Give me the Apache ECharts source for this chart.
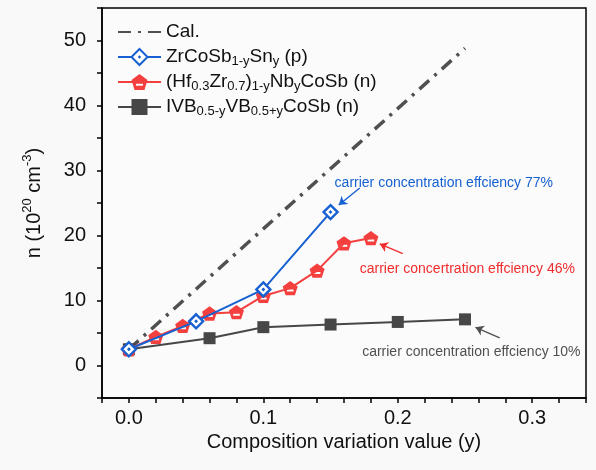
<!DOCTYPE html>
<html>
<head>
<meta charset="utf-8">
<script src="https://cdn.jsdelivr.net/npm/echarts@6/dist/echarts.min.js"></script>
<style>
  html, body { margin: 0; padding: 0; background: #f9f9f9; }
  #main { width: 596px; height: 470px; }
</style>
</head>
<body>
<div id="main"></div>
<script>
// values
const calX = [0.0, 0.25];
const calN = [2.5, 48.8];
const zrX = [0.0, 0.05, 0.1, 0.15];
const zrN = [2.5, 6.8, 11.7, 23.6];
const hfX = [0.0, 0.02, 0.04, 0.06, 0.08, 0.1, 0.12, 0.14, 0.16, 0.18];
const hfN = [2.5, 4.4, 6.1, 8.0, 8.2, 10.7, 11.9, 14.6, 18.8, 19.6];
const ivbX = [0.0, 0.06, 0.1, 0.15, 0.2, 0.25];
const ivbN = [2.5, 4.2, 5.9, 6.3, 6.7, 7.1];

const seriesNames = ['Cal.', 'ZrCoSb1-ySny (p)', '(Hf0.3Zr0.7)1-yNbyCoSb (n)', 'IVB0.5-yVB0.5+yCoSb (n)'];
// rich text versions for the legend
const legendLabels = {
    'Cal.': 'Cal.',
    'ZrCoSb1-ySny (p)': 'ZrCoSb{sub|1-y}Sn{sub|y} (p)',
    '(Hf0.3Zr0.7)1-yNbyCoSb (n)': '(Hf{sub|0.3}Zr{sub|0.7}){sub|1-y}Nb{sub|y}CoSb (n)',
    'IVB0.5-yVB0.5+yCoSb (n)': 'IVB{sub|0.5-y}VB{sub|0.5+y}CoSb (n)'
};

// annotation texts + arrows (in data coords)
const notes = [
    { text: 'carrier concentration effciency 77%', at: [0.153, 28.1], from: [0.1717, 27.3], to: [0.1561, 24.7], color: '#1660d2' },
    { text: 'carrier concertration effciency 46%', at: [0.1717, 14.9], from: [0.2037, 17.2], to: [0.1866, 18.7], color: '#f02c2c' },
    { text: 'carrier concentration effciency 10%', at: [0.1735, 2.1], from: [0.2758, 4.25], to: [0.2578, 5.87], color: '#505050' }
];

const BLUE = '#1660d2';
const RED = '#f43f3f';
const GRAY = '#474747';
const FONT = '"Liberation Sans", Arial, sans-serif';

const diamondDot = 'path://M0,-10L10,0L0,10L-10,0Z M0,-0.4L0.4,0L0,0.4L-0.4,0Z';
const pentagonBar = 'path://M0,-10L9.51,-3.09L5.88,8.09L-5.88,8.09L-9.51,-3.09Z M-4.2,0.9L-4.2,3.4L4.2,3.4L4.2,0.9Z';

function pairs(xs, ys) {
    return xs.map((x, i) => [x, ys[i]]);
}

function arrowLine(note) {
    return {
        silent: true,
        symbol: ['none', 'arrow'],
        symbolSize: 8,
        label: { show: false },
        lineStyle: { color: note.color, width: 1.4, type: 'solid' },
        data: [[{ coord: note.from }, { coord: note.to }]]
    };
}

const chart = echarts.init(document.getElementById('main'));

const option = {
    backgroundColor: '#f9f9f9',
    animation: false,
    grid: {
        left: 102, right: 10, top: 8, bottom: 72,
        show: true, borderColor: '#000', borderWidth: 1.5, backgroundColor: '#fbfbfb'
    },
    legend: {
        orient: 'vertical',
        left: 117, top: 21, padding: 0,
        itemWidth: 43, itemHeight: 20, itemGap: 3,
        data: [seriesNames[0], seriesNames[1], seriesNames[2], seriesNames[3]],
        formatter: name => legendLabels[name],
        textStyle: {
            fontSize: 19, lineHeight: 22, color: '#111', fontFamily: FONT,
            rich: { sub: { fontSize: 13, lineHeight: 7, verticalAlign: 'bottom', fontFamily: FONT, color: '#111' } }
        }
    },
    xAxis: {
        type: 'value', min: -0.02, max: 0.34, interval: 0.02,
        name: 'Composition variation value (y)', nameLocation: 'middle', nameGap: 28,
        nameTextStyle: { fontSize: 20, color: '#111', fontFamily: FONT },
        axisLine: { show: true, onZero: false, lineStyle: { color: '#000', width: 1.5 } },
        axisTick: { show: true, inside: false, length: 5, lineStyle: { color: '#000', width: 1.5 } },
        axisLabel: {
            fontSize: 20, color: '#111', fontFamily: FONT, margin: 10,
            formatter: v => (v > -1e-9 && Math.abs(v * 10 - Math.round(v * 10)) < 1e-6) ? v.toFixed(1) : ''
        },
        splitLine: { show: false }
    },
    yAxis: {
        type: 'value', min: -5, max: 55, interval: 5,
        name: 'n (10{sup|20} cm{sup|-3})', nameLocation: 'middle', nameGap: 55,
        nameTextStyle: {
            fontSize: 20, lineHeight: 26, color: '#111', fontFamily: FONT,
            rich: { sup: { fontSize: 13, lineHeight: 13, verticalAlign: 'top', fontFamily: FONT, color: '#111' } }
        },
        axisLine: { show: true, onZero: false, lineStyle: { color: '#000', width: 1.5 } },
        axisTick: { show: true, inside: false, length: 5, lineStyle: { color: '#000', width: 1.5 } },
        axisLabel: {
            fontSize: 20, color: '#111', fontFamily: FONT, margin: 16,
            formatter: v => (Math.abs(v % 10) < 1e-9 && v >= 0) ? String(v) : ''
        },
        splitLine: { show: false }
    },
    series: [
        {
            name: seriesNames[0], type: 'line', data: pairs(calX, calN),
            symbol: 'circle', showSymbol: false, z: 2,
            lineStyle: { color: '#505050', width: 3.5, type: [13, 7, 3, 7] },
            itemStyle: { color: 'rgba(0,0,0,0)', borderWidth: 0 }
        },
        {
            name: seriesNames[3], type: 'line', data: pairs(ivbX, ivbN),
            symbol: 'rect', symbolSize: 12, z: 3,
            lineStyle: { color: GRAY, width: 2 },
            itemStyle: { color: GRAY },
            markLine: arrowLine(notes[2])
        },
        {
            name: seriesNames[2], type: 'line', data: pairs(hfX, hfN),
            symbol: pentagonBar, symbolSize: 15, symbolKeepAspect: true, z: 4,
            lineStyle: { color: RED, width: 2 },
            itemStyle: { color: RED },
            markLine: arrowLine(notes[1])
        },
        {
            name: seriesNames[1], type: 'line', data: pairs(zrX, zrN),
            symbol: diamondDot, symbolSize: 14, symbolKeepAspect: true, z: 5,
            lineStyle: { color: BLUE, width: 2 },
            itemStyle: { color: '#ffffff', borderColor: BLUE, borderWidth: 2.4 },
            markLine: arrowLine(notes[0])
        }
    ]
};

chart.setOption(option);

// place annotation texts through the axes
chart.setOption({
    graphic: notes.map(n => {
        const p = chart.convertToPixel({ gridIndex: 0 }, n.at);
        return {
            type: 'text', x: p[0], y: p[1], z: 10,
            style: { text: n.text, fill: n.color, fontSize: 14, fontFamily: FONT, verticalAlign: 'middle' }
        };
    })
});
</script>
</body>
</html>
